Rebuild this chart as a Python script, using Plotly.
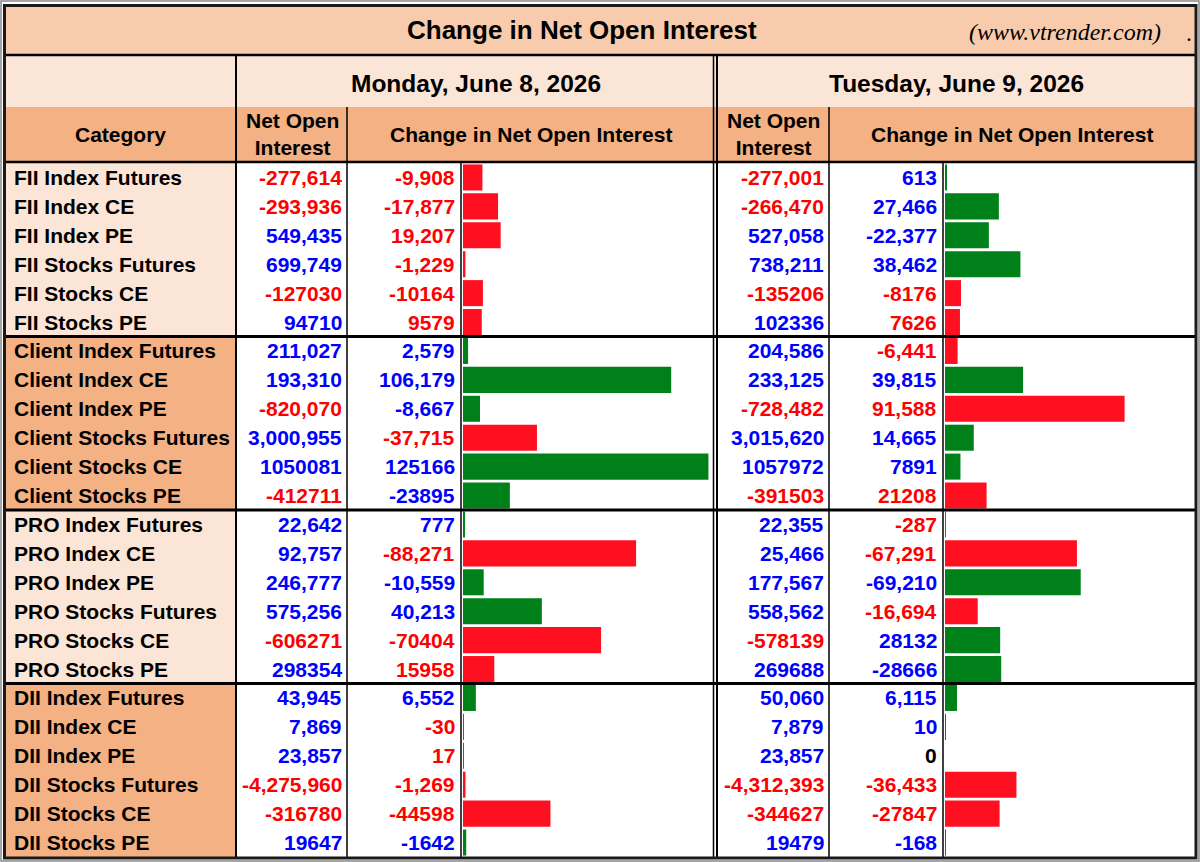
import plotly.graph_objects as go

W, H = 1200, 862

groups = ["FII", "Client", "PRO", "DII"]
kinds = ["Index Futures", "Index CE", "Index PE", "Stocks Futures", "Stocks CE", "Stocks PE"]
categories = [g + " " + k for g in groups for k in kinds]

mon_noi = [-277614, -293936, 549435, 699749, -127030, 94710,
           211027, 193310, -820070, 3000955, 1050081, -412711,
           22642, 92757, 246777, 575256, -606271, 298354,
           43945, 7869, 23857, -4275960, -316780, 19647]
mon_chg = [-9908, -17877, 19207, -1229, -10164, 9579,
           2579, 106179, -8667, -37715, 125166, -23895,
           777, -88271, -10559, 40213, -70404, 15958,
           6552, -30, 17, -1269, -44598, -1642]
tue_noi = [-277001, -266470, 527058, 738211, -135206, 102336,
           204586, 233125, -728482, 3015620, 1057972, -391503,
           22355, 25466, 177567, 558562, -578139, 269688,
           50060, 7879, 23857, -4312393, -344627, 19479]
tue_chg = [613, 27466, -22377, 38462, -8176, 7626,
           -6441, 39815, 91588, 14665, 7891, 21208,
           -287, -67291, -69210, -16694, 28132, -28666,
           6115, 10, 0, -36433, -27847, -168]

title = "Change in Net Open Interest"
site = "(www.vtrender.com)"
day1 = "Monday, June 8, 2026"
day2 = "Tuesday, June 9, 2026"

FONT = "Liberation Sans"
BLUE, RED, BLACK = "#0000ff", "#ff0000", "#000000"
GREEN_BAR, RED_BAR = "#008019", "#ff1020"
LIGHT, MID, DARK = "#fbe5d6", "#f8cbad", "#f4b183"
FS = 21


def px(x):
    return x / W


def py(y):
    return 1 - y / H


def fmt(v, i):
    # Futures / Index rows use thousands separators, Stocks CE/PE don't
    return f"{v:,}" if i % 6 < 4 else str(v)


def bullish(v, cat):
    return -v if cat.endswith("PE") else v


def chg_color(v, cat):
    b = bullish(v, cat)
    return BLUE if b > 0 else (RED if b < 0 else BLACK)


def noi_color(v):
    return BLUE if v > 0 else (RED if v < 0 else BLACK)


TOP, BOT = 163, 857
ROWH = (BOT - TOP) / len(categories)

fig = go.Figure()

for chg, xa in [(mon_chg, "x"), (tue_chg, "x2")]:
    fig.add_trace(go.Bar(
        y=categories, x=[abs(v) for v in chg], orientation="h",
        xaxis=xa, yaxis="y", width=0.9,
        marker=dict(color=[GREEN_BAR if bullish(v, c) > 0 else RED_BAR
                           for v, c in zip(chg, categories)], line=dict(width=0)),
        hoverinfo="y+x", showlegend=False,
    ))

shapes = []


def rect(x0, y0, x1, y1, fill, lw=0, lc="black"):
    shapes.append(dict(type="rect", xref="paper", yref="paper", layer="below",
                       x0=px(x0), x1=px(x1), y0=py(y1), y1=py(y0),
                       fillcolor=fill, line=dict(width=lw, color=lc)))


def line(x0, y0, x1, y1, lw, lc="black"):
    shapes.append(dict(type="line", xref="paper", yref="paper", layer="above",
                       x0=px(x0), x1=px(x1), y0=py(y0), y1=py(y1),
                       line=dict(width=lw, color=lc)))


# header backgrounds
rect(5, 7, 1196, 55, MID)
rect(5, 55, 1196, 107, LIGHT)
rect(5, 107, 1196, 162, DARK)
# category column fills
for gi in range(4):
    rect(5, TOP + gi * 6 * ROWH, 236, TOP + (gi + 1) * 6 * ROWH, LIGHT if gi % 2 == 0 else DARK)

# grid lines
line(5, 55, 1196, 55, 2.5)
line(5, 162, 1196, 162, 2.5)
line(236, 55, 236, BOT, 2)
line(347, 107, 347, BOT, 1.5)
line(461, 162, 461, BOT, 1.5)
line(713.5, 55, 713.5, BOT, 1.5)
line(717, 55, 717, BOT, 2)
line(829, 107, 829, BOT, 1.5)
line(943, 162, 943, BOT, 1.5)
for gi in range(1, 4):
    yy = TOP + gi * 6 * ROWH
    line(5, yy, 1196, yy, 3)
# outer border
shapes.append(dict(type="rect", xref="paper", yref="paper", layer="above",
                   x0=px(1), x1=px(1199), y0=py(861), y1=py(1),
                   line=dict(width=1.5, color="#888888")))
shapes.append(dict(type="rect", xref="paper", yref="paper", layer="above",
                   x0=px(4.5), x1=px(1196), y0=py(858), y1=py(5.5),
                   line=dict(width=3, color="#1a1a1a")))

ann = []


def text(x, y, s, size=FS, color=BLACK, xanchor="center", family=FONT, bold=True, italic=False):
    ann.append(dict(x=px(x), y=py(y), xref="paper", yref="paper", text=s, showarrow=False,
                    xanchor=xanchor, yanchor="middle",
                    font=dict(family=family, size=size, color=color,
                              weight="bold" if bold else "normal",
                              style="italic" if italic else "normal")))


text(582, 30, title, size=26)
text(1163, 32, site, size=24, xanchor="right", family="Liberation Serif", bold=False, italic=True)
text(1189, 33, ".", size=24, family="Liberation Serif", bold=False)
text(476, 83, day1, size=24.5)
text(956, 83, day2, size=24.5)
text(120, 135, "Category")
for cx in (292, 773):
    text(cx, 134, "Net Open<br>Interest")
text(531, 135, title)
text(1012, 135, title)

for i, cat in enumerate(categories):
    ann.append(dict(x=px(12), y=cat, xref="paper", yref="y", text=cat, showarrow=False,
                    xanchor="left", yanchor="middle",
                    font=dict(family=FONT, size=FS, color=BLACK, weight="bold")))
    cells = [(344, mon_noi[i], noi_color(mon_noi[i])),
             (457, mon_chg[i], chg_color(mon_chg[i], cat)),
             (826, tue_noi[i], noi_color(tue_noi[i])),
             (939, tue_chg[i], chg_color(tue_chg[i], cat))]
    for xr, v, col in cells:
        ann.append(dict(x=px(xr), y=cat, xref="paper", yref="y", text=fmt(v, i), showarrow=False,
                        xanchor="right", yanchor="middle",
                        font=dict(family=FONT, size=FS, color=col, weight="bold")))

XMAX = 128000
fig.update_layout(
    width=W, height=H, margin=dict(l=0, r=0, t=0, b=0),
    paper_bgcolor="white", plot_bgcolor="rgba(0,0,0,0)",
    bargap=0.1,
    xaxis=dict(domain=[px(463), px(714)], range=[0, XMAX], visible=False, fixedrange=True),
    xaxis2=dict(domain=[px(945), px(1196)], range=[0, XMAX], visible=False, fixedrange=True,
                anchor="y"),
    yaxis=dict(domain=[py(BOT), py(TOP)], range=[len(categories) - 0.5, -0.5],
               categoryorder="array", categoryarray=categories, visible=False, fixedrange=True),
    shapes=shapes, annotations=ann,
)

fig.write_html("out.html", config={"displayModeBar": False},
               post_script="document.body.style.margin='0';document.body.style.overflow='hidden';")
